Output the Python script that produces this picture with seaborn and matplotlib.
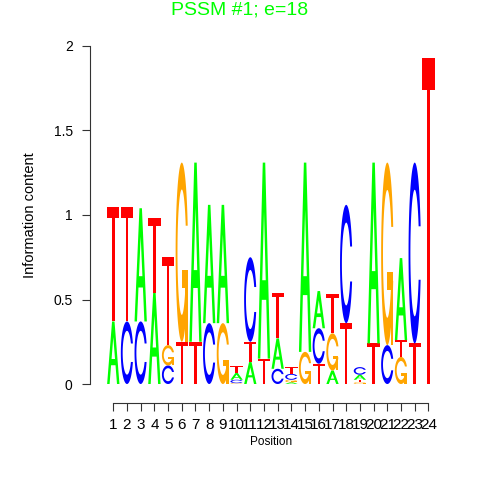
import matplotlib
matplotlib.use("Agg")
import matplotlib.pyplot as plt
import numpy as np
import pandas as pd
import seaborn as sns
from matplotlib.patches import Polygon

# ── data: information content (bits) per letter and position ──
positions = list(range(1, 25))
a_bits = [0.37, 0.00, 0.67, 0.54, 0.00, 0.00, 1.06, 0.70, 0.70, 0.04, 0.13, 1.16,
          0.18, 0.01, 1.12, 0.22, 0.08, 0.00, 0.03, 1.07, 0.00, 0.485, 0.00, 0.00]
c_bits = [0.00, 0.37, 0.37, 0.00, 0.11, 0.00, 0.00, 0.36, 0.00, 0.02, 0.50, 0.00,
          0.09, 0.035, 0.00, 0.21, 0.00, 0.70, 0.045, 0.00, 0.23, 0.00, 1.07, 0.00]
g_bits = [0.00, 0.00, 0.00, 0.00, 0.12, 1.06, 0.00, 0.00, 0.36, 0.005, 0.00, 0.00,
          0.00, 0.015, 0.19, 0.00, 0.22, 0.00, 0.01, 0.00, 1.08, 0.16, 0.00, 0.00]
t_bits = [0.68, 0.68, 0.00, 0.44, 0.52, 0.25, 0.25, 0.00, 0.00, 0.04, 0.12, 0.15,
          0.27, 0.04, 0.00, 0.12, 0.23, 0.36, 0.015, 0.24, 0.00, 0.10, 0.24, 1.93]
# stacking order of the letters, bottom to top
stack_order = ["AT", "CT", "CA", "AT", "CGT", "TG", "TA", "CA", "GA", "GCAT",
               "ATC", "TA", "CAT", "AGCT", "GA", "TCA", "AGT", "TC", "GTAC",
               "TA", "CG", "GTA", "TC", "T"]

letter_colors = {"A": "#00FF00", "C": "#0000FF", "G": "#FFA500", "T": "#FF0000"}

logo = pd.DataFrame({"A": a_bits, "C": c_bits, "G": g_bits, "T": t_bits},
                    index=positions)


# ── letter outlines in a unit box (seqLogo style polygons) ──
def ring_outline():
    a1 = np.linspace(0.3 + np.pi / 2, np.pi, 100)
    a2 = np.linspace(np.pi, 1.5 * np.pi, 100)
    xl = np.r_[0.5 + 0.5 * np.sin(a1), 0.5 + 0.5 * np.sin(a2)]
    yl = np.r_[0.5 + 0.5 * np.cos(a1), 0.5 + 0.5 * np.cos(a2)]
    xo = np.r_[xl, xl[::-1]]
    yo = np.r_[yl, 1 - yl[::-1]]
    top = (0.5 + 0.5 * np.cos(a1)).max()
    xi1 = 0.5 + 0.35 * np.sin(a1)
    yi1 = 0.5 + 0.35 * np.cos(a1)
    keep = yi1 <= top
    xi1, yi1 = xi1[keep], yi1[keep]
    yi1[0] = top
    xi = np.r_[xi1, 0.5 + 0.35 * np.sin(a2)]
    yi = np.r_[yi1, 0.5 + 0.35 * np.cos(a2)]
    xin = np.r_[xi, xi[::-1]]
    yin = np.r_[yi, 1 - yi[::-1]]
    x = np.r_[xo, xin[::-1]]
    y = np.r_[yo, yin[::-1]]
    return x, y, (0.5 + 0.5 * np.sin(a1)).max()


def glyph_parts(ch):
    """List of (xy array, is_hole) in the unit square."""
    if ch == "A":
        outer = np.array([[0, 0], [4, 10], [6, 10], [10, 0], [8, 0],
                          [6.8, 3], [3.2, 3], [2, 0]]) / 10
        hole = np.array([[3.6, 4], [5, 7.5], [6.4, 4]]) / 10
        return [(outer, False), (hole, True)]
    if ch == "T":
        xy = np.array([[0, 10], [10, 10], [10, 9], [6, 9], [6, 0],
                       [4, 0], [4, 9], [0, 9]]) / 10
        return [(xy, False)]
    x, y, r1 = ring_outline()
    parts = [(np.c_[x, y], False)]
    if ch == "G":
        bar = np.array([[r1, 0.4], [0.5, 0.4], [0.5, 0.3], [r1 - 0.2, 0.3],
                        [r1 - 0.2, 0], [r1, 0]])
        parts.append((bar, False))
    return parts


def draw_letter(ax, ch, x, y0, h, color, width=0.9):
    for xy, is_hole in glyph_parts(ch):
        pts = np.c_[x - width / 2 + xy[:, 0] * width, y0 + xy[:, 1] * h]
        ax.add_patch(Polygon(pts, closed=True, fc="white" if is_hole else color,
                             ec="none", lw=0))


sns.set_theme(style="ticks")
plt.rcParams["font.family"] = ["Liberation Sans", "DejaVu Sans"]

fig = plt.figure(figsize=(4.8, 4.8), dpi=100)
ax = fig.add_axes([90 / 480, 96 / 480, 348 / 480, 338 / 480])

for pos, order in zip(positions, stack_order):
    y = 0.0
    for ch in order:
        h = logo.loc[pos, ch]
        if h <= 0:
            continue
        draw_letter(ax, ch, pos, y, h, letter_colors[ch])
        y += h

ax.set_xlim(-0.7, 24.7)
ax.set_ylim(0, 2)
ax.set_xticks(positions)
ax.set_xticklabels([str(p) for p in positions], fontsize=7.3)
ax.set_yticks([0, 0.5, 1, 1.5, 2])
ax.set_yticklabels(["0", "0.5", "1", "1.5", "2"], fontsize=10)
ax.tick_params(axis="both", direction="out", length=5.5, width=0.8,
               color="#333333", labelcolor="black")
ax.tick_params(axis="y", pad=7)
ax.tick_params(axis="x", pad=5.5)

sns.despine(ax=ax)
ax.spines["bottom"].set_position(("outward", 13.5))
ax.spines["bottom"].set_bounds(1, 24)
ax.spines["left"].set_bounds(0, 2)
for s in ("bottom", "left"):
    ax.spines[s].set_color("#333333")
    ax.spines[s].set_linewidth(0.8)

ax.set_ylabel("Information content", fontsize=10.5, color="black")
ax.yaxis.set_label_coords(-0.152, 0.5)
ax.set_xlabel("Position", fontsize=8.5, color="black")
ax.xaxis.set_label_coords(0.5195, -0.155)

fig.text(0.5, 1 - 10 / 480, "PSSM #1; e=18", color="#00FF00",
         fontsize=14, ha="center", va="center")

fig.savefig("out.png", dpi=100, facecolor="white")
